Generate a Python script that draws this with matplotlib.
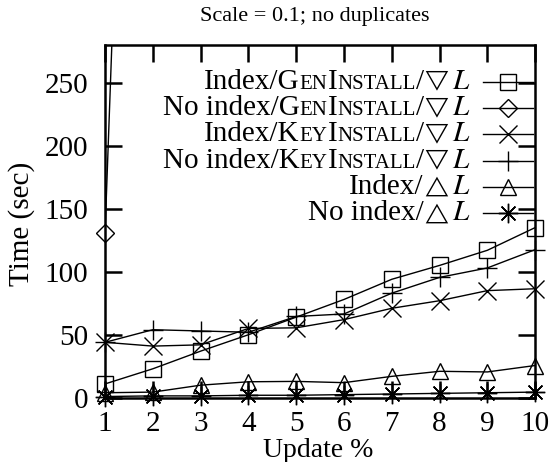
import numpy as np
import matplotlib
matplotlib.use("Agg")
import matplotlib.pyplot as plt
from matplotlib.lines import Line2D
from matplotlib.offsetbox import TextArea, HPacker, DrawingArea, AnchoredOffsetbox

plt.rcParams['font.family'] = ['Liberation Serif', 'DejaVu Serif']
plt.rcParams['mathtext.fontset'] = 'stix'

# update percentage
update = np.arange(1, 11)

# runtimes in seconds
idx_gen = [11, 23, 37, 50, 64, 78, 94, 105, 117, 135]
noidx_gen = [131, 1180, np.nan, np.nan, np.nan, np.nan, np.nan, np.nan, np.nan, np.nan]  # leaves the plot after x=1
idx_key = [44, 41, 42, 55, 55.5, 62, 71, 77, 85, 86.5]
noidx_key = [44, 54, 53, 52, 64.5, 66.5, 83, 95.5, 103, 117.5]
idx_delta = [4, 4.5, 10, 12.7, 13, 12, 17, 21, 20.5, 25.6]
noidx_delta = [1, 1.5, 1.5, 2, 2, 2.5, 3, 3.5, 4, 4.5]

ymax = 280
asterisk = (8, 2, 0)
FS = 21      # main text size
SC = 15      # small caps size
TRI = 15     # triangle symbol size

down = [("/", 0), (r"$\bigtriangledown$", 2), (r"$\,L$", 0)]
up = [(r"$\bigtriangleup$", 2), (r"$\,L$", 0)]

# label pieces: (text, style) style 0 normal, 1 small caps, 2 symbol
series = [
    (idx_gen, 's', 11, [("Index/G", 0), ("EN", 1), ("I", 0), ("NSTALL", 1)] + down),
    (noidx_gen, 'D', 9, [("No index/G", 0), ("EN", 1), ("I", 0), ("NSTALL", 1)] + down),
    (idx_key, 'x', 13, [("Index/K", 0), ("EY", 1), ("I", 0), ("NSTALL", 1)] + down),
    (noidx_key, '+', 14, [("No index/K", 0), ("EY", 1), ("I", 0), ("NSTALL", 1)] + down),
    (idx_delta, '^', 11, [("Index/", 0)] + up),
    (noidx_delta, asterisk, 14, [("No index/", 0)] + up),
]
sizes = {0: FS, 1: SC, 2: TRI}

fig = plt.figure(figsize=(5.5, 4.62), dpi=100)
ax = fig.add_axes([0.191, 0.139, 0.782, 0.764])

for vals, mk, ms, _ in series:
    vals = np.array(vals, dtype=float)
    ax.plot(update, vals, color='k', lw=1.0)
    ok = vals <= ymax
    ax.plot(update[ok], vals[ok], linestyle='None', marker=mk, ms=ms, mfc='none',
            mec='k', mew=1.0, clip_on=False)

ax.set_xlim(1, 10)
ax.set_ylim(0, ymax)
ax.set_xticks(update)
ax.set_yticks(np.arange(0, 251, 50))
for sp in ax.spines.values():
    sp.set_linewidth(1.8)
ax.tick_params(direction='in', length=12, width=1.8, top=True, right=True,
               labelsize=FS)
ax.tick_params(axis='x', pad=9.5)
ax.tick_params(axis='y', pad=12)

fig.text(22 / 550, 1 - 224 / 462, "Time (sec)", rotation=90, fontsize=FS,
         ha='center', va='center')
fig.text(318 / 550, 1 - 457 / 462, "Update %", fontsize=20, ha='center', va='baseline')
fig.text(315 / 550, 1 - 16 / 462, "Scale = 0.1; no duplicates", fontsize=16,
         ha='center', va='center')

# hand-built key so the small caps come out right
x0_px, x1_px = 105, 535
y0_px, y1_px = 398, 45
for i, (vals, mk, ms, pieces) in enumerate(series):
    boxes = [TextArea(t, textprops=dict(fontsize=sizes[s])) for t, s in pieces]
    label = HPacker(children=boxes, sep=0, pad=0, align='baseline')
    da = DrawingArea(36, 16, 0, 0)
    da.add_artist(Line2D([0, 36], [8, 8], color='k', lw=1.0))
    da.add_artist(Line2D([18], [8], marker=mk, ms=ms, mfc='none', mec='k', mew=1.0))
    row = HPacker(children=[label, da], sep=9, pad=0, align='center')
    yc = 82 + i * 26.3
    anchor = ((533 - x0_px) / (x1_px - x0_px), (y0_px - yc) / (y0_px - y1_px))
    box = AnchoredOffsetbox(loc='center right', child=row, pad=0, borderpad=0,
                            frameon=False, bbox_to_anchor=anchor,
                            bbox_transform=ax.transAxes)
    ax.add_artist(box)

fig.savefig("out.png", dpi=100)
